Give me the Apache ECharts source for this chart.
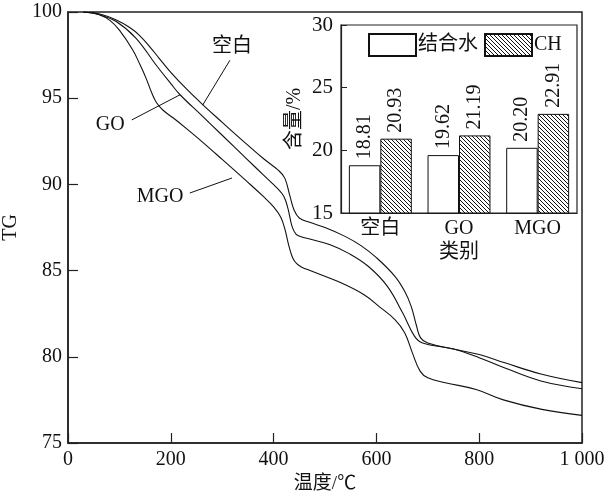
<!DOCTYPE html>
<html>
<head>
<meta charset="utf-8">
<script src="https://cdn.jsdelivr.net/npm/echarts@6/dist/echarts.min.js"></script>
<style>
  html, body { margin: 0; padding: 0; background: #fff; }
  #chart { width: 607px; height: 494px; }
</style>
</head>
<body>
<div id="chart"></div>
<script>
// TG curves: [temperature °C, mass %]
const blankTG = [
  [30,100],[60,99.9],[93,99.55],[120,99.1],[139,98.65],[160,97.95],[177,97.33],
  [200,96.5],[230,95.55],[263,94.6],[300,93.6],[347,92.35],[380,91.5],[410,90.8],
  [422,90.35],[432,89.3],[440,88.5],[450,88.05],[470,87.8],[500,87.5],[538,87.0],
  [570,86.45],[600,85.75],[636,84.67],[655,83.8],[668,82.9],[678,81.8],[686,81.1],
  [700,80.8],[750,80.45],[800,80.13],[850,79.65],[920,79.0],[1000,78.5]
];
const goTG = [
  [30,100],[60,99.85],[93,99.46],[132,98.49],[171,96.94],[200,95.85],[218,95.2],
  [260,94.0],[300,92.85],[347,91.5],[380,90.55],[408,89.75],[420,89.3],[428,88.6],
  [436,87.55],[444,87.1],[455,86.95],[474,86.8],[510,86.5],[546,86.0],[584,85.25],
  [621,84.1],[651,82.55],[674,81.2],[690,80.8],[750,80.45],[800,79.95],[850,79.35],
  [920,78.6],[1000,78.15]
];
const mgoTG = [
  [30,100],[61,99.84],[82,99.5],[100,98.95],[126,97.8],[140,96.95],[152,96.15],
  [163,95.3],[172,94.75],[185,94.3],[205,93.85],[230,93.25],[260,92.5],[300,91.45],
  [347,90.2],[380,89.3],[400,88.7],[414,88.1],[422,87.4],[430,86.4],[437,85.75],
  [445,85.4],[455,85.2],[471,85.0],[531,84.29],[576,83.6],[606,82.9],[636,82.16],
  [655,81.4],[670,80.23],[685,79.17],[700,78.78],[734,78.5],[794,78.1],[847,77.5],
  [922,76.95],[1000,76.6]
];

// inset: bound water and CH content by sample
const samples = ['空白', 'GO', 'MGO'];
const boundWater = [18.81, 19.62, 20.20];
const chContent = [20.93, 21.19, 22.91];

// curve callouts: text position, leader start, leader end (data coords)
const callouts = [
  { text: '空白', at: [319, 97.97], from: [315, 97.2], to: [262, 94.6] },
  { text: 'GO',   at: [82, 93.45],  from: [124, 93.74], to: [218, 95.2] },
  { text: 'MGO',  at: [179, 89.27], from: [237, 89.5],  to: [319, 90.37] }
];

const FONT = '"Liberation Serif", "Times New Roman", "Noto Sans CJK SC", serif';
const AX = '#222';

// diagonal hatch fill
function hatch() {
  const s = 4, c = document.createElement('canvas');
  c.width = s; c.height = s;
  const g = c.getContext('2d');
  g.fillStyle = '#fff'; g.fillRect(0, 0, s, s);
  g.strokeStyle = '#111'; g.lineWidth = 1;
  g.beginPath();
  g.moveTo(-1, -1); g.lineTo(s + 1, s + 1);
  g.moveTo(-1, s - 1); g.lineTo(1, s + 1);
  g.moveTo(s - 1, -1); g.lineTo(s + 1, 1);
  g.stroke();
  return { image: c, repeat: 'repeat' };
}

const chart = echarts.init(document.getElementById('chart'), null, { renderer: 'canvas' });

function curve(name, data) {
  return {
    name, type: 'line', data, xAxisIndex: 0, yAxisIndex: 0,
    showSymbol: false, smooth: 0.4, silent: true,
    lineStyle: { color: '#111', width: 1.1 }
  };
}

const valueLabel = {
  show: true, position: 'top', rotate: 90, align: 'left', verticalAlign: 'middle',
  distance: 6, fontFamily: FONT, fontSize: 20, color: '#111',
  formatter: p => p.value.toFixed(2)
};

chart.setOption({
  animation: false,
  backgroundColor: '#fff',
  textStyle: { fontFamily: FONT },
  grid: [
    { left: 68, right: 25, top: 12, bottom: 51, outerBoundsMode: 'none', containLabel: false,
      show: true, borderColor: AX, borderWidth: 1.5, backgroundColor: 'transparent' },
    { left: 341, right: 30, top: 25, bottom: 281, outerBoundsMode: 'none', containLabel: false,
      show: true, borderColor: AX, borderWidth: 1.2, backgroundColor: '#fff' }
  ],
  legend: {
    data: ['结合水', 'CH'], left: 368, top: 33, padding: 0,
    itemWidth: 47, itemHeight: 22, itemGap: 6,
    textStyle: { fontFamily: FONT, fontSize: 20, color: '#111', padding: [0, 0, 0, -3] },
    icon: 'rect'
  },
  xAxis: [
    {
      type: 'value', gridIndex: 0, min: 0, max: 1000, interval: 200,
      name: '温度/℃', nameLocation: 'middle', nameGap: 24,
      nameTextStyle: { fontFamily: FONT, fontSize: 19, color: '#111' },
      axisLine: { lineStyle: { color: AX, width: 1.5 } },
      axisTick: { inside: true, length: 10, lineStyle: { color: AX, width: 1.2 } },
      axisLabel: { fontFamily: FONT, fontSize: 20, color: '#111', margin: 7,
        formatter: v => v === 1000 ? '1 000' : String(v) },
      splitLine: { show: false }
    },
    {
      type: 'category', gridIndex: 1, data: samples,
      name: '类别', nameLocation: 'middle', nameGap: 30,
      nameTextStyle: { fontFamily: FONT, fontSize: 20, color: '#111' },
      axisLine: { lineStyle: { color: AX, width: 1.2 } },
      axisTick: { show: false },
      axisLabel: { fontFamily: FONT, fontSize: 20, color: '#111', margin: 6 }
    }
  ],
  yAxis: [
    {
      type: 'value', gridIndex: 0, min: 75, max: 100, interval: 5,
      name: 'TG', nameLocation: 'middle', nameGap: 40,
      nameTextStyle: { fontFamily: FONT, fontSize: 20, color: '#111' },
      axisLine: { show: true, lineStyle: { color: AX, width: 1.5 } },
      axisTick: { show: true, inside: true, length: 10, lineStyle: { color: AX, width: 1.2 } },
      axisLabel: { fontFamily: FONT, fontSize: 20, color: '#111', margin: 6 },
      splitLine: { show: false }
    },
    {
      type: 'value', gridIndex: 1, min: 15, max: 30, interval: 5,
      name: '含量/%', nameLocation: 'middle', nameGap: 36,
      nameTextStyle: { fontFamily: FONT, fontSize: 20, color: '#111' },
      axisLine: { show: true, lineStyle: { color: AX, width: 1.2 } },
      axisTick: { show: true, inside: true, length: 6, lineStyle: { color: AX } },
      axisLabel: { fontFamily: FONT, fontSize: 21, color: '#111', margin: 8 },
      splitLine: { show: false }
    }
  ],
  series: [
    curve('空白TG', blankTG),
    curve('GO TG', goTG),
    curve('MGO TG', mgoTG),
    {
      name: '结合水', type: 'bar', xAxisIndex: 1, yAxisIndex: 1, data: boundWater,
      barGap: '0%', barCategoryGap: '20%',
      itemStyle: { color: '#fff', borderColor: '#111', borderWidth: 1 },
      label: valueLabel
    },
    {
      name: 'CH', type: 'bar', xAxisIndex: 1, yAxisIndex: 1, data: chContent,
      barGap: '0%', barCategoryGap: '20%',
      itemStyle: { color: hatch(), borderColor: '#111', borderWidth: 1 },
      label: valueLabel
    }
  ]
});

// curve callouts with leader lines
const px = p => chart.convertToPixel({ gridIndex: 0 }, p);
const graphics = [];
callouts.forEach(c => {
  const a = px(c.from), b = px(c.to), t = px(c.at);
  graphics.push({
    type: 'line', shape: { x1: a[0], y1: a[1], x2: b[0], y2: b[1] },
    style: { stroke: '#111', lineWidth: 1 }, z: 10
  });
  graphics.push({
    type: 'text', x: t[0], y: t[1],
    style: { text: c.text, fontFamily: FONT, fontSize: 20, fill: '#111', align: 'center', verticalAlign: 'middle' },
    z: 10
  });
});
chart.setOption({ graphic: graphics });
</script>
</body>
</html>
